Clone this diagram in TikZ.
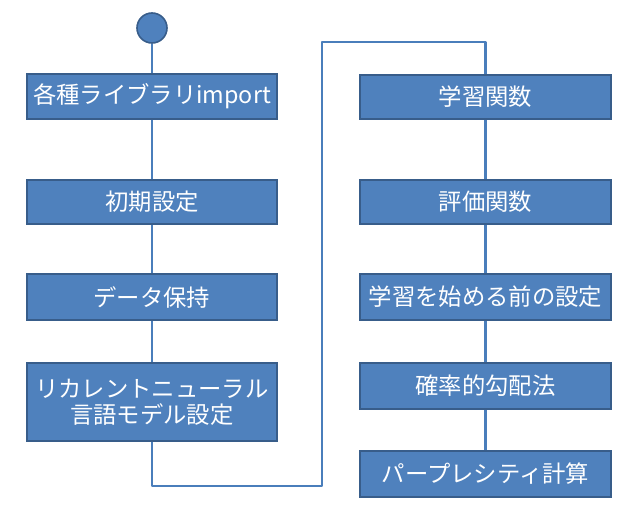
\documentclass[tikz,border=0pt]{standalone}
\usepackage{fontspec}
\newfontfamily\jp{Noto Sans CJK JP}
\definecolor{boxfill}{HTML}{4F81BD}
\definecolor{boxline}{HTML}{385D8A}
\definecolor{conn}{HTML}{4A7EBB}
\begin{document}
\begin{tikzpicture}[x=0.75pt,y=-0.75pt,
  stepbox/.style={draw=boxline,line width=1.2pt,fill=boxfill,text=white,
    font=\jp\fontsize{17.5}{19.5}\selectfont,inner sep=0pt,align=center},
  link/.style={draw=conn,line width=1.6pt}]
\useasboundingbox (0,0) rectangle (640,518);
\node[circle,draw=boxline,fill=boxfill,line width=1.2pt,minimum size=30*0.75pt,inner sep=0pt] (start) at (152,28) {};
% left column: x 27..277
\node[stepbox,minimum width=250*0.75pt,minimum height=45*0.75pt] (a1) at (152,96.5) {各種ライブラリimport};
\node[stepbox,minimum width=250*0.75pt,minimum height=44*0.75pt] (a2) at (152,202) {初期設定};
\node[stepbox,minimum width=250*0.75pt,minimum height=46*0.75pt] (a3) at (152,297) {データ保持};
\node[stepbox,minimum width=250*0.75pt,minimum height=78*0.75pt] (a4) at (152,402) {リカレントニューラル\\言語モデル設定};
% right column: x 360..611
\node[stepbox,minimum width=251*0.75pt,minimum height=44*0.75pt] (b1) at (485.5,97) {学習関数};
\node[stepbox,minimum width=251*0.75pt,minimum height=44*0.75pt] (b2) at (485.5,202) {評価関数};
\node[stepbox,minimum width=251*0.75pt,minimum height=46*0.75pt] (b3) at (485.5,297) {学習を始める前の設定};
\node[stepbox,minimum width=251*0.75pt,minimum height=46*0.75pt] (b4) at (485.5,386) {確率的勾配法};
\node[stepbox,minimum width=251*0.75pt,minimum height=46*0.75pt] (b5) at (485.5,474) {パープレシティ計算};
\coordinate (c1) at (152,486);
\coordinate (c2) at (322,486);
\coordinate (c3) at (322,42);
\coordinate (c4) at (485.5,42);
\path[link] (start) -- (a1);
\path[link] (a1) -- (a2);
\path[link] (a2) -- (a3);
\path[link] (a3) -- (a4);
\path[link,line join=round] (a4.south) -- (c1) -- (c2) -- (c3) -- (c4) -- (b1.north);
\path[link] (b1) -- (b2);
\path[link] (b2) -- (b3);
\path[link] (b3) -- (b4);
\path[link] (b4) -- (b5);
\end{tikzpicture}
\end{document}
